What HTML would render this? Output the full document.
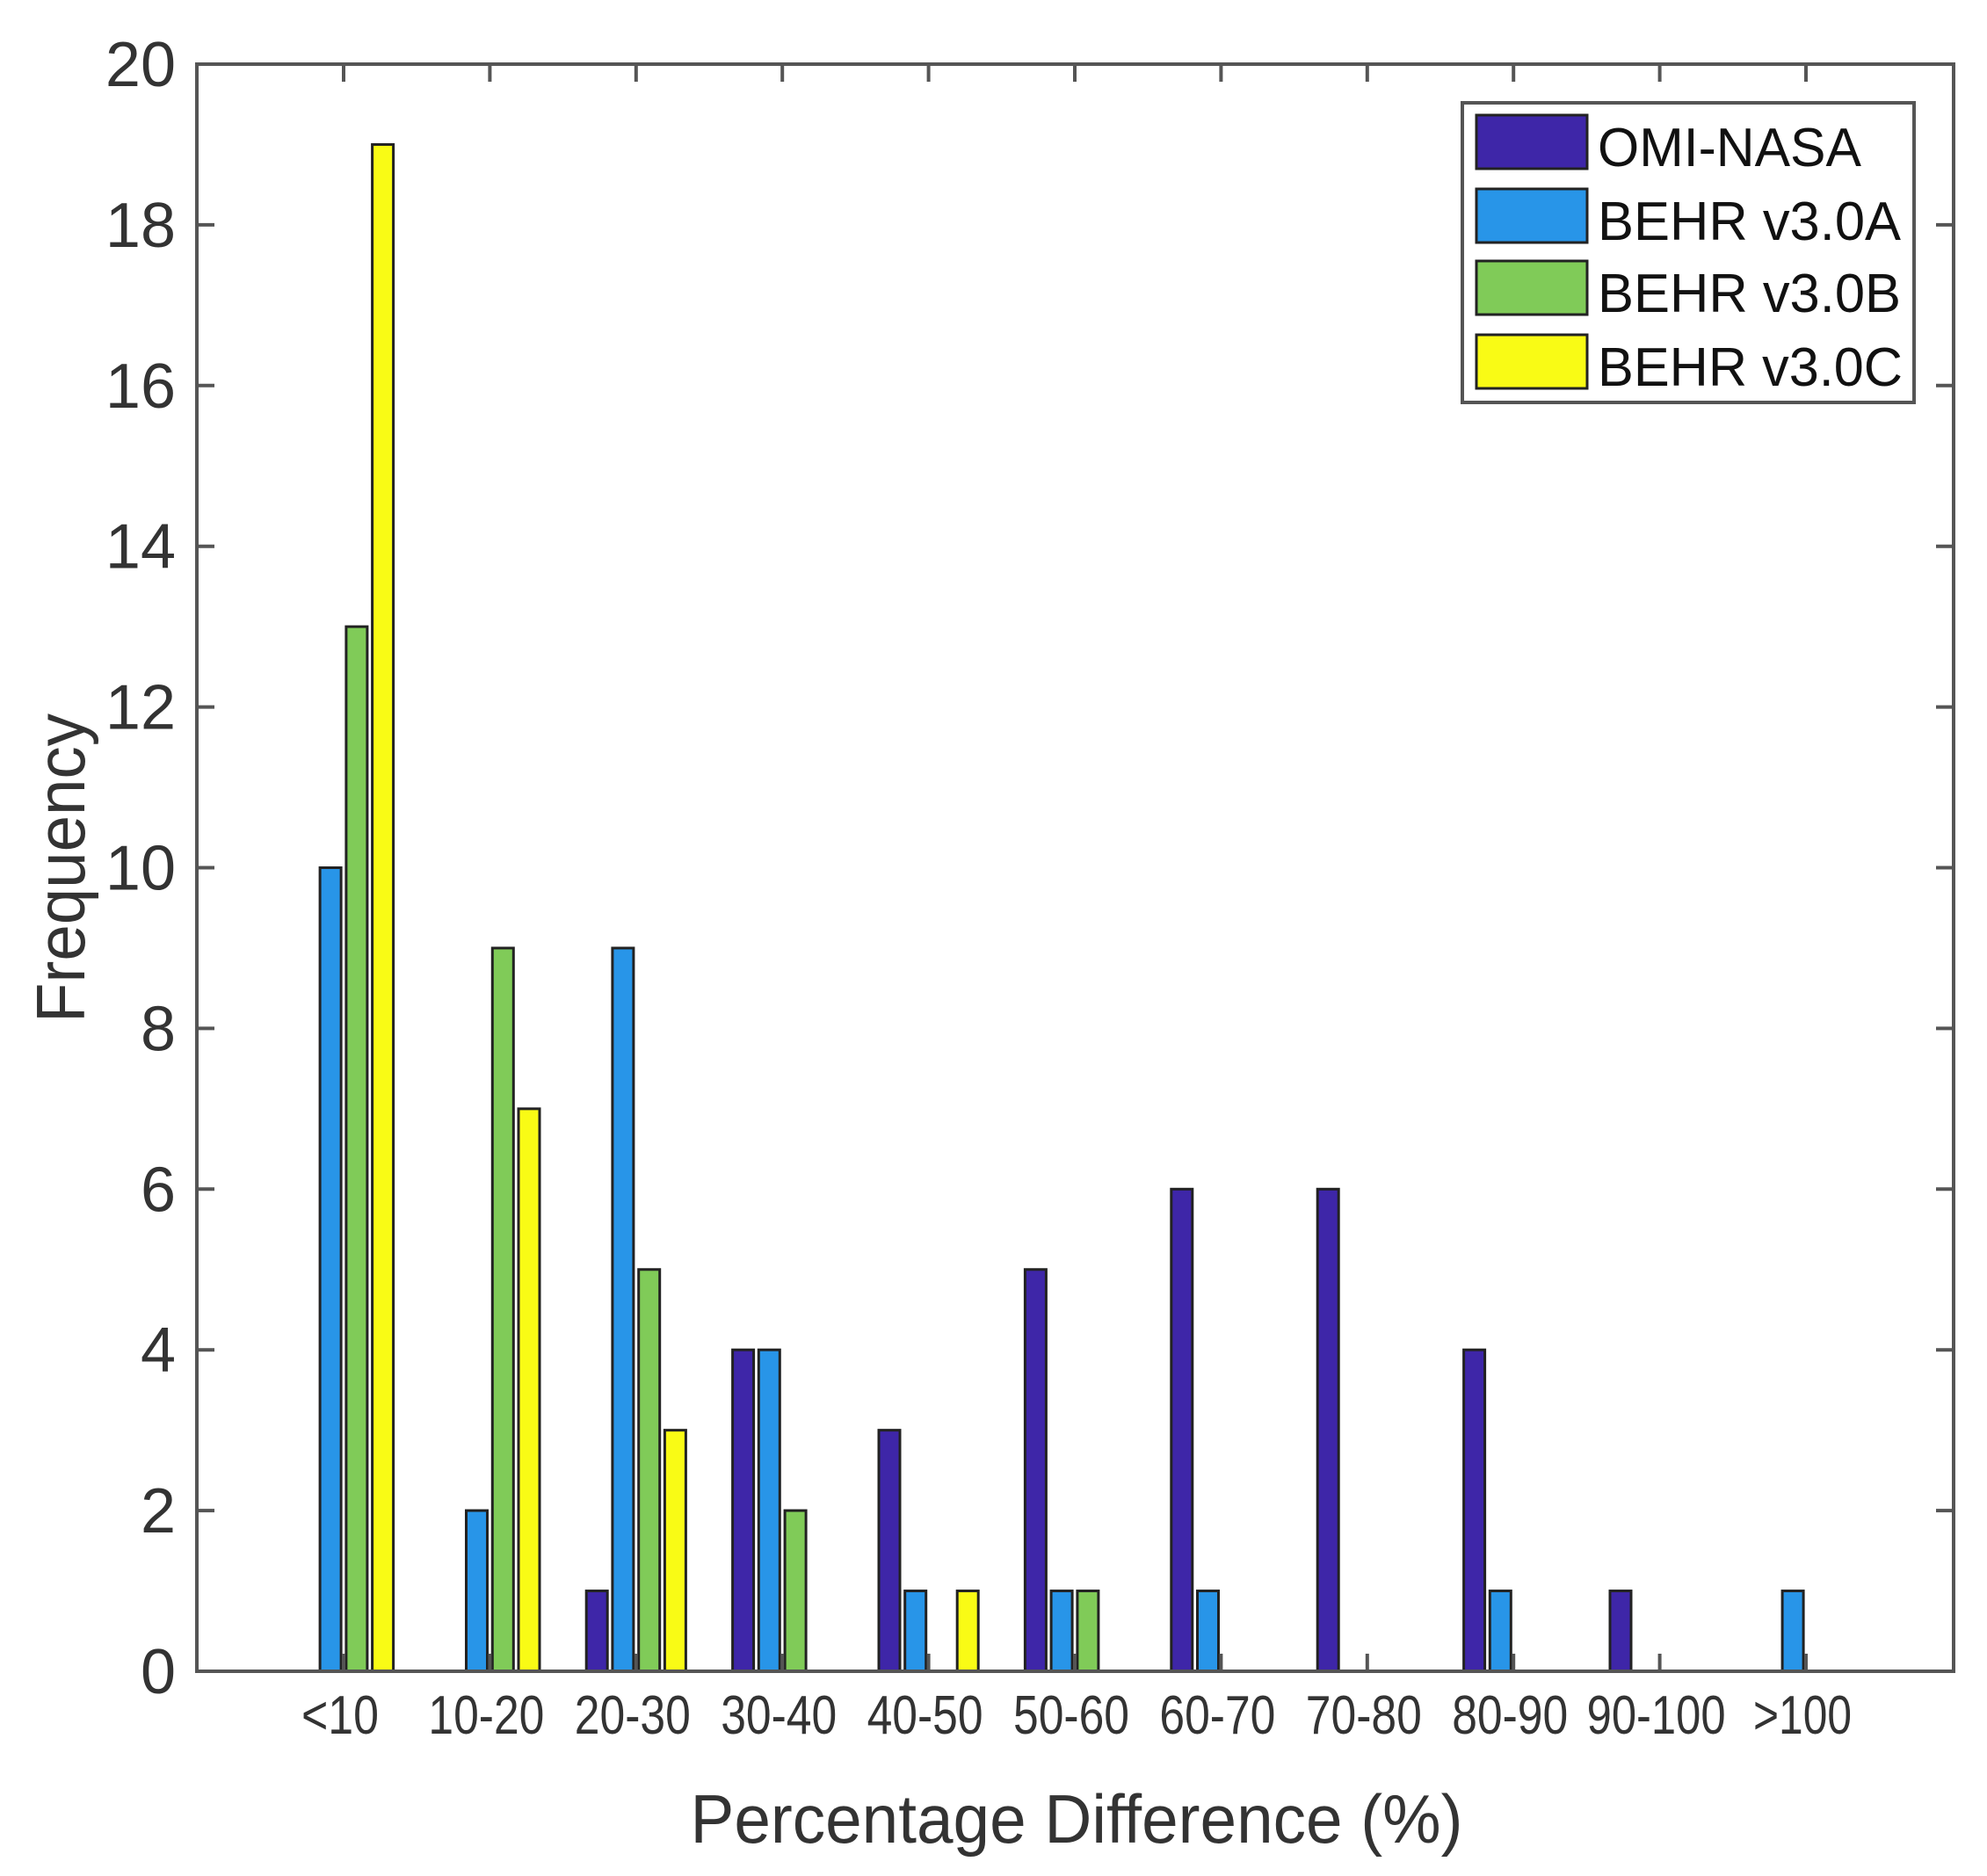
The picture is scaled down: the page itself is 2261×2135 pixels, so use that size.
<!DOCTYPE html>
<html><head><meta charset="utf-8"><style>html,body{margin:0;padding:0;background:#fff}</style></head>
<body>
<svg width="2261" height="2130" viewBox="0 0 2261 2130" xmlns="http://www.w3.org/2000/svg" font-family="Liberation Sans, sans-serif">
<rect width="2261" height="2130" fill="#fff"/>
<g id="bars" stroke="#222" stroke-width="3"></g>
<rect x="224" y="73" width="1999" height="1829" fill="none" stroke="#555" stroke-width="4"/>
<g id="ticks" stroke="#555" stroke-width="4"></g>
<g id="lbl" fill="#333"></g>
<text x="1225" y="2097" font-size="78" fill="#333" text-anchor="middle" textLength="879" lengthAdjust="spacingAndGlyphs">Percentage Difference (%)</text>
<text transform="translate(96,988) rotate(-90)" font-size="78" fill="#333" text-anchor="middle" textLength="352" lengthAdjust="spacingAndGlyphs">Frequency</text>
<g>
<rect x="1664" y="117" width="514" height="341" fill="#fff" stroke="#555" stroke-width="4"/>
<rect x="1680" y="131" width="126" height="61" fill="#3e26a8" stroke="#222" stroke-width="3"/>
<rect x="1680" y="215" width="126" height="61" fill="#2895e8" stroke="#222" stroke-width="3"/>
<rect x="1680" y="297" width="126" height="61" fill="#80cb58" stroke="#222" stroke-width="3"/>
<rect x="1680" y="381" width="126" height="61" fill="#f9fb15" stroke="#222" stroke-width="3"/>
<g font-size="62" fill="#111" lengthAdjust="spacingAndGlyphs">
<text x="1818" y="189" textLength="300" lengthAdjust="spacingAndGlyphs">OMI-NASA</text>
<text x="1818" y="273" textLength="345" lengthAdjust="spacingAndGlyphs">BEHR v3.0A</text>
<text x="1818" y="355" textLength="345" lengthAdjust="spacingAndGlyphs">BEHR v3.0B</text>
<text x="1818" y="439" textLength="347" lengthAdjust="spacingAndGlyphs">BEHR v3.0C</text>
</g>
</g>
<script>
var ns="http://www.w3.org/2000/svg";
var data=[[0,0,1,4,3,5,6,6,4,1,0],[10,2,9,4,1,1,1,0,1,0,1],[13,9,5,2,0,1,0,0,0,0,0],[19,7,3,0,1,0,0,0,0,0,0]];
var cols=["#3e26a8","#2895e8","#80cb58","#f9fb15"];
var offs=[-44.6,-14.9,14.9,44.6];
var cats=["<10","10-20","20-30","30-40","40-50","50-60","60-70","70-80","80-90","90-100",">100"];
var wl=[88,132,132,132,132,132,132,132,132,158,112];
var B=1902,U=91.45,bars=document.getElementById("bars"),tk=document.getElementById("ticks"),lb=document.getElementById("lbl");
function el(t,a,p){var e=document.createElementNS(ns,t);for(var k in a)e.setAttribute(k,a[k]);p.appendChild(e);return e;}
for(var s=0;s<4;s++)for(var i=0;i<11;i++){var v=data[s][i];if(!v)continue;var cx=391+166.4*i+offs[s];
el("rect",{x:cx-12,y:B-v*U,width:24,height:v*U,fill:cols[s]},bars);}
for(var i=0;i<11;i++){var cx=391+166.4*i;
el("line",{x1:cx,y1:73,x2:cx,y2:93},tk);el("line",{x1:cx,y1:B,x2:cx,y2:B-20},tk);
var t=el("text",{x:cx-4,y:1973,"font-size":"62","text-anchor":"middle",textLength:wl[i],lengthAdjust:"spacingAndGlyphs"},lb);t.textContent=cats[i];}
for(var k=0;k<=10;k++){var y=B-2*k*U;
el("line",{x1:224,y1:y,x2:244,y2:y},tk);el("line",{x1:2223,y1:y,x2:2203,y2:y},tk);
var t=el("text",{x:200,y:y+25,"font-size":"72","text-anchor":"end"},lb);t.textContent=String(2*k);}
</script>
</svg>
</body></html>
